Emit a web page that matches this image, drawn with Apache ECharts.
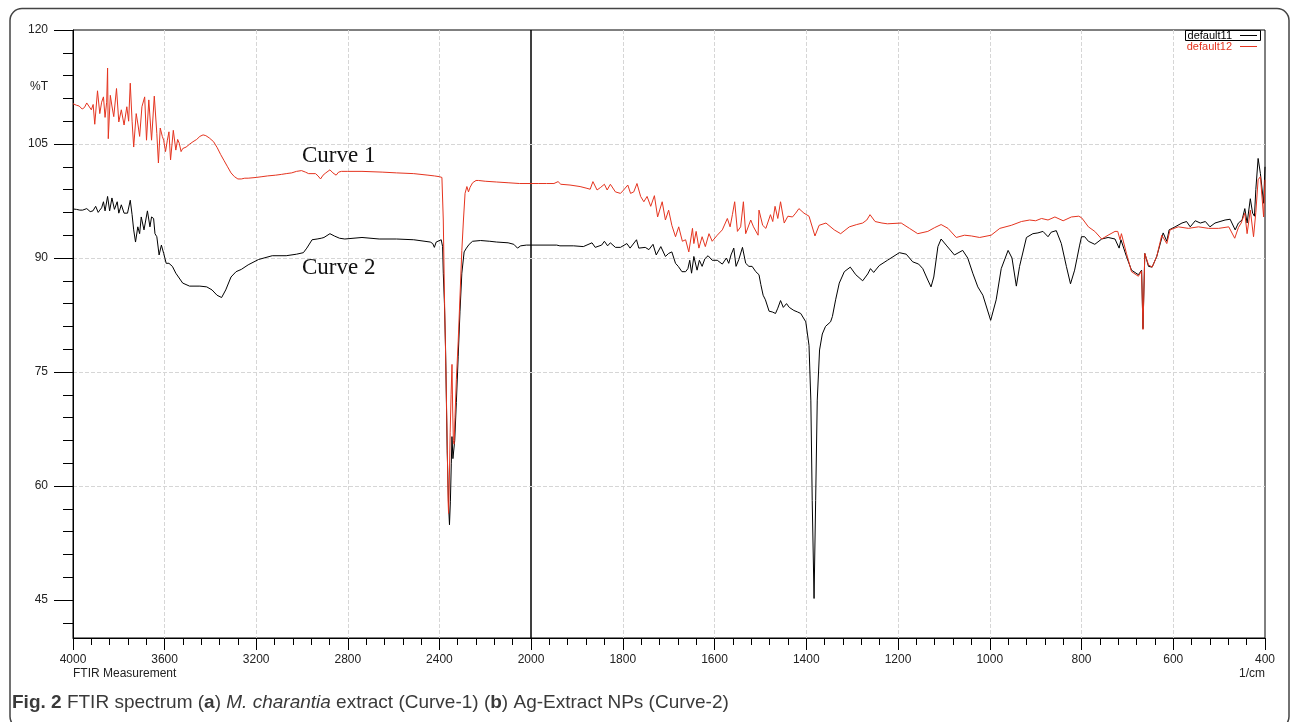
<!DOCTYPE html>
<html>
<head>
<meta charset="utf-8">
<script src="https://cdn.jsdelivr.net/npm/echarts@6/dist/echarts.min.js"></script>
<style>
html, body { margin: 0; padding: 0; background: #fff; }
#chart { width: 1293px; height: 722px; }
</style>
</head>
<body>
<div id="chart"></div>
<script>
// Curve 1 (red, default12): wavenumber (1/cm) and %T
var curve1Wn = [4000, 3985, 3973, 3960, 3950, 3940, 3932, 3920, 3912, 3905, 3893, 3883, 3875, 3867, 3860, 3853, 3849, 3846, 3837, 3830,
  3822, 3810, 3800, 3789, 3777, 3765, 3757, 3750, 3742, 3735, 3724, 3716, 3709, 3699, 3687, 3679, 3669, 3657, 3645, 3634,
  3627, 3619, 3610, 3604, 3596, 3588, 3581, 3574, 3562, 3551, 3543, 3536, 3528, 3521, 3506, 3490, 3476, 3460, 3446, 3432,
  3420, 3405, 3386, 3370, 3355, 3340, 3325, 3310, 3295, 3280, 3265, 3250, 3235, 3200, 3175, 3150, 3115, 3090, 3069, 3045,
  3024, 3002, 2985, 2971, 2941, 2930, 2919, 2908, 2896, 2878, 2865, 2851, 2840, 2828, 2800, 2738, 2650, 2587, 2512, 2450,
  2422, 2400, 2389, 2383, 2378, 2372, 2366, 2362, 2360, 2357, 2353, 2349, 2345, 2342, 2339, 2336, 2332, 2326, 2318, 2310,
  2302, 2295, 2288, 2280, 2273, 2266, 2255, 2240, 2229, 2200, 2150, 2100, 2050, 2000,
  1983, 1966, 1950, 1941, 1935, 1915, 1893, 1880, 1871, 1865, 1856, 1848, 1840, 1834, 1827, 1816, 1805, 1798, 1789, 1783,
  1776, 1769, 1761, 1754, 1747, 1739, 1731, 1724, 1714, 1707, 1700, 1693, 1685, 1678, 1670, 1663, 1656, 1648, 1645, 1640,
  1634, 1627, 1620, 1612, 1605, 1594, 1583, 1572, 1566, 1561, 1556, 1550, 1543, 1537, 1532, 1521, 1515, 1505, 1503, 1495,
  1488, 1478, 1473, 1468, 1462, 1456, 1448, 1440, 1437, 1430, 1423, 1416, 1405, 1394, 1390, 1381, 1372, 1357, 1339, 1325,
  1306, 1290, 1277, 1268, 1261, 1250, 1235, 1223, 1193, 1175, 1157, 1135, 1120, 1106, 1091, 1073, 1055, 1040, 1022, 997,
  978, 953, 931, 913, 900, 887, 873, 858, 840, 822, 806, 800, 796, 785, 771, 756, 742, 727, 721, 716,
  713, 702, 691, 676, 669, 666, 662, 654, 646, 636, 625, 614, 607, 589, 567, 545, 523, 501, 479, 466,
  458, 452, 444, 439, 432, 425, 420, 415, 410, 403, 400];
var curve1T = [110.3, 110.1, 110.0, 109.6, 109.8, 110.4, 110.6, 109.5, 110.2, 107.6, 112.0, 109.0, 110.5, 111.2, 108.5, 110.5, 115.0, 105.7, 111.4, 110.0,
  108.6, 112.3, 107.9, 109.5, 107.5, 109.9, 108.0, 113.0, 108.0, 104.6, 109.0, 107.5, 106.0, 109.9, 111.2, 105.5, 110.8, 105.5, 111.3, 106.4,
  102.5, 107.1, 106.0, 105.5, 104.0, 105.5, 106.6, 102.9, 106.8, 104.2, 105.6, 105.1, 104.0, 104.4, 104.6, 105.0, 105.3, 105.6, 106.0, 106.2,
  106.1, 105.8, 105.3, 104.5, 103.6, 102.8, 102.0, 101.2, 100.7, 100.4, 100.4, 100.5, 100.5, 100.6, 100.7, 100.8, 100.9, 101.0, 101.1, 101.2,
  101.4, 101.5, 101.3, 101.1, 101.1, 100.8, 100.4, 100.9, 101.2, 101.6, 101.2, 100.9, 101.3, 101.4, 101.4, 101.4, 101.3, 101.2, 101.1, 100.9,
  100.8, 100.7, 100.6, 95.0, 85.0, 76.0, 66.0, 58.0, 56.4, 60.0, 67.0, 72.0, 76.0, 70.0, 66.0, 65.5, 69.0, 74.0, 79.0, 85.0,
  91.0, 95.0, 98.5, 99.4, 98.7, 99.3, 99.9, 100.2, 100.2, 100.1, 100.0, 99.9, 99.8, 99.8,
  99.8, 99.8, 99.8, 100.05, 99.7, 99.6, 99.4, 99.2, 99.05, 100.05, 98.95, 99.3, 99.7, 98.95, 99.7, 98.7, 98.5, 98.95, 99.6, 98.5,
  98.7, 99.8, 98.1, 97.4, 98.1, 96.8, 98.2, 95.4, 97.4, 95.0, 96.3, 94.3, 92.8, 94.1, 92.2, 92.4, 90.8, 93.9, 91.9, 93.5,
  91.3, 92.8, 91.5, 93.2, 92.2, 93.0, 93.7, 95.2, 94.1, 95.7, 97.4, 93.5, 94.1, 97.4, 93.2, 95.0, 94.1, 93.0, 96.3, 94.3,
  93.9, 95.7, 94.8, 96.8, 95.2, 97.4, 94.6, 95.5, 95.7, 95.4, 95.9, 96.5, 95.9, 95.5, 95.7, 92.9, 94.3, 94.6, 93.7, 93.2,
  94.1, 94.4, 94.6, 95.0, 95.7, 94.8, 94.6, 94.5, 94.6, 93.9, 93.2, 93.5, 94.0, 94.4, 93.9, 92.7, 93.0, 92.9, 92.7, 93.0,
  93.9, 94.3, 94.8, 95.0, 94.9, 95.2, 95.0, 95.4, 94.9, 95.4, 95.5, 95.3, 95.0, 94.1, 93.5, 92.5, 93.0, 93.5, 93.5, 92.4,
  93.2, 90.6, 88.2, 87.6, 88.3, 80.6, 90.6, 89.1, 88.8, 90.2, 93.0, 91.9, 93.7, 94.1, 93.9, 94.1, 93.9, 93.9, 94.1, 92.6,
  94.0, 94.6, 95.9, 93.2, 96.3, 92.8, 96.0, 100.3, 100.7, 95.4, 100.3];

// Curve 2 (black, default11)
var curve2Wn = [4000, 3985, 3970, 3958, 3940, 3925, 3913, 3901, 3890, 3883, 3875, 3867, 3860, 3849, 3840, 3830, 3819, 3807, 3800, 3789,
  3777, 3762, 3750, 3742, 3735, 3727, 3717, 3709, 3702, 3690, 3675, 3664, 3657, 3648, 3642, 3634, 3624, 3614, 3604, 3593,
  3581, 3566, 3551, 3521, 3491, 3446, 3416, 3393, 3371, 3351, 3333, 3310, 3288, 3265, 3235, 3190, 3130, 3069, 3024, 2994,
  2979, 2956, 2934, 2916, 2904, 2878, 2859, 2836, 2813, 2738, 2663, 2587, 2512, 2440, 2429, 2422, 2414, 2392, 2386, 2383,
  2378, 2373, 2366, 2360, 2356, 2352, 2348, 2345, 2341, 2337, 2333, 2326, 2318, 2310, 2302, 2292, 2282, 2277, 2270, 2255,
  2220, 2180, 2150, 2100, 2075, 2059, 2045, 2020, 2000,
  1944, 1937, 1907, 1886, 1867, 1860, 1846, 1840, 1833, 1827, 1816, 1805, 1791, 1784, 1770, 1765, 1751, 1743, 1734, 1727,
  1717, 1707, 1700, 1693, 1685, 1679, 1671, 1663, 1658, 1654, 1650, 1645, 1638, 1633, 1627, 1621, 1614, 1605, 1594, 1583,
  1574, 1569, 1564, 1558, 1553, 1547, 1539, 1532, 1525, 1518, 1510, 1503, 1499, 1494, 1489, 1481, 1474, 1467, 1462, 1456,
  1450, 1443, 1437, 1427, 1419, 1412, 1408, 1401, 1394, 1390, 1387, 1383, 1379.5, 1376, 1371, 1365, 1358, 1347, 1343, 1336,
  1328, 1317, 1304, 1292, 1277, 1266, 1260, 1253, 1241, 1223, 1197, 1182, 1168, 1155, 1146, 1135, 1128, 1122, 1113, 1106,
  1095, 1077, 1059, 1048, 1037, 1026, 1015, 998, 986, 975, 960, 951.5, 942, 935, 920, 906, 895, 884, 873, 866,
  855, 844, 833, 824, 815, 804, 800, 793, 785, 771, 756, 742, 727, 718, 714, 702, 691, 676, 669, 666,
  662, 654, 646, 636, 622, 614, 609, 596, 581, 571, 563, 552, 541, 530, 520, 509, 498, 487, 476, 465,
  458, 450, 444, 439, 432, 427, 423, 420, 415, 410, 403, 400];
var curve2T = [96.45, 96.4, 96.3, 96.3, 96.5, 96.1, 96.2, 96.8, 96.0, 96.3, 96.6, 97.4, 96.2, 98.1, 96.2, 97.9, 96.4, 97.4, 95.9, 97.0,
  95.9, 95.9, 97.6, 95.7, 93.7, 92.1, 94.1, 93.2, 95.4, 93.7, 96.2, 94.1, 95.4, 95.2, 93.2, 92.8, 90.4, 91.7, 90.6, 89.3,
  89.3, 88.9, 88.0, 86.7, 86.3, 86.3, 86.2, 85.8, 85.1, 84.8, 85.8, 87.5, 88.2, 88.5, 89.1, 89.8, 90.3, 90.3, 90.5, 90.7,
  91.3, 92.4, 92.5, 92.6, 92.7, 93.2, 92.9, 92.6, 92.5, 92.7, 92.5, 92.5, 92.4, 92.1, 91.9, 91.4, 92.1, 92.4, 91.5, 88.0,
  84.0, 77.9, 64.7, 57.5, 54.9, 58.0, 63.0, 66.5, 63.6, 63.4, 66.0, 71.0, 77.0, 83.0, 88.0, 90.8, 91.3, 91.05, 91.8, 92.2,
  92.3, 92.2, 92.1, 92.0, 91.8, 91.3, 91.6, 91.7, 91.7,
  91.7, 91.6, 91.6, 91.5, 92.0, 91.4, 91.7, 92.2, 91.6, 92.0, 91.4, 91.4, 91.9, 91.3, 92.4, 91.3, 91.4, 91.1, 91.8, 90.4,
  91.5, 90.2, 90.6, 90.8, 89.3, 88.9, 88.2, 88.2, 88.6, 89.7, 88.0, 90.2, 88.4, 89.7, 88.9, 89.9, 90.3, 89.7, 89.7, 89.2,
  90.0, 89.3, 90.4, 91.3, 88.9, 89.8, 91.4, 89.3, 88.9, 88.9, 88.2, 87.8, 86.5, 85.1, 84.5, 83.0, 82.9, 82.7, 83.4, 84.4,
  83.5, 84.0, 83.5, 83.1, 82.9, 82.7, 82.5, 81.6, 78.5, 71.3, 58.1, 45.2, 58.1, 71.3, 77.9, 80.0, 81.0, 81.6, 82.3, 84.5,
  86.7, 88.2, 88.8, 87.8, 87.0, 87.9, 88.6, 88.1, 89.0, 89.7, 90.7, 90.5, 89.5, 89.2, 88.6, 87.1, 86.2, 87.5, 91.5, 92.5,
  91.7, 90.4, 91.0, 90.0, 88.0, 86.2, 85.1, 81.8, 84.5, 88.6, 91.0, 90.0, 86.3, 88.9, 92.7, 93.2, 93.3, 93.5, 92.8, 93.4,
  93.6, 91.9, 88.9, 86.6, 88.4, 91.7, 92.8, 92.8, 92.2, 91.8, 92.5, 92.7, 92.5, 91.3, 92.4, 90.2, 88.4, 87.8, 88.4, 80.7,
  90.6, 88.9, 88.8, 90.2, 93.3, 92.2, 93.7, 94.1, 94.6, 94.8, 94.1, 94.9, 94.6, 94.8, 94.1, 94.6, 94.8, 95.0, 95.1, 93.7,
  94.6, 95.0, 96.5, 94.6, 97.8, 95.9, 95.5, 99.0, 103.1, 101.1, 97.2, 102.0];

var yLabelValues = [45, 60, 75, 90, 105, 120];
var seriesNames = ['default11', 'default12'];

var minorY = [];
for (var v = 42; v <= 120; v += 3) minorY.push(v);

function pairs(wn, t, lo, hi) {
  var out = [];
  for (var i = 0; i < wn.length; i++) {
    if (wn[i] >= lo && wn[i] <= hi) out.push([wn[i], t[i]]);
  }
  return out;
}

var black = '#000000';
var red = '#e5341f';
var font = 'Liberation Sans';
var gridLine = { show: true, showMinLine: false, showMaxLine: false, lineStyle: { color: '#d6d6d6', type: 'dashed', width: 1 } };

function xAxis(idx, min, max, interval) {
  return {
    gridIndex: idx, type: 'value', min: min, max: max, interval: interval, inverse: true,
    axisLine: { show: true, onZero: false, lineStyle: { color: black, width: 1 } },
    axisTick: { show: true, length: 12, lineStyle: { color: black } },
    minorTick: { show: true, splitNumber: 5, length: 7, lineStyle: { color: black } },
    axisLabel: {
      margin: 16, color: '#222', fontSize: 12, fontFamily: font,
      formatter: function (val) { return (idx === 1 && val === 2000) ? '' : String(val); }
    },
    splitLine: gridLine
  };
}

var option = {
  animation: false,
  backgroundColor: '#fff',
  grid: [
    { left: 73, top: 30, width: 458, bottom: 84, show: true, borderColor: black, borderWidth: 1, outerBoundsMode: 'none' },
    { left: 531, top: 30, right: 28, bottom: 84, show: true, borderColor: black, borderWidth: 1, outerBoundsMode: 'none' }
  ],
  xAxis: [xAxis(0, 2000, 4000, 400), xAxis(1, 400, 2000, 200)],
  yAxis: [
    {
      gridIndex: 0, type: 'value', min: 40, max: 120, position: 'left',
      axisLine: { show: true, lineStyle: { color: black } },
      axisTick: { show: true, length: 19, customValues: yLabelValues, lineStyle: { color: black } },
      axisLabel: { customValues: yLabelValues, margin: 25, color: '#222', fontSize: 12, fontFamily: font },
      splitLine: gridLine
    },
    {
      gridIndex: 0, type: 'value', min: 40, max: 120, position: 'left', offset: 0,
      axisLine: { show: false },
      axisTick: { show: true, length: 10, customValues: minorY, lineStyle: { color: black } },
      axisLabel: { show: false },
      splitLine: { show: false }
    },
    {
      gridIndex: 1, type: 'value', min: 40, max: 120, position: 'left',
      axisLine: { show: false },
      axisTick: { show: false, customValues: yLabelValues },
      axisLabel: { show: false },
      splitLine: gridLine
    }
  ],
  legend: {
    orient: 'vertical', right: 36, top: 30, align: 'right', padding: 0, itemGap: 0,
    itemWidth: 17, itemHeight: 1, icon: 'rect', selectedMode: false,
    textStyle: { fontSize: 11, lineHeight: 11, fontFamily: font, padding: [0, 3, 0, 0] },
    data: [
      { name: seriesNames[0], textStyle: { color: black } },
      { name: seriesNames[1], textStyle: { color: red } }
    ]
  },
  series: [
    { name: seriesNames[0], type: 'line', xAxisIndex: 0, yAxisIndex: 0, showSymbol: false, data: pairs(curve2Wn, curve2T, 2000, 4000), lineStyle: { color: black, width: 1 }, itemStyle: { color: black } },
    { name: seriesNames[0], type: 'line', xAxisIndex: 1, yAxisIndex: 2, showSymbol: false, data: pairs(curve2Wn, curve2T, 400, 2000), lineStyle: { color: black, width: 1 }, itemStyle: { color: black } },
    { name: seriesNames[1], type: 'line', xAxisIndex: 0, yAxisIndex: 0, showSymbol: false, data: pairs(curve1Wn, curve1T, 2000, 4000), lineStyle: { color: red, width: 1 }, itemStyle: { color: red } },
    { name: seriesNames[1], type: 'line', xAxisIndex: 1, yAxisIndex: 2, showSymbol: false, data: pairs(curve1Wn, curve1T, 400, 2000), lineStyle: { color: red, width: 1 }, itemStyle: { color: red } }
  ],
  graphic: [
    { type: 'rect', silent: true, shape: { x: 10, y: 8.5, width: 1279, height: 720, r: 12 }, style: { fill: 'none', stroke: '#444', lineWidth: 1.5 } },
    { type: 'rect', silent: true, shape: { x: 1185.5, y: 30.5, width: 75, height: 10 }, style: { fill: 'none', stroke: black, lineWidth: 1 }, z: 10 },
    { type: 'text', x: 30, y: 87, style: { text: '%T', font: '12px "Liberation Sans"', fill: '#222', verticalAlign: 'middle' } },
    { type: 'text', x: 302, y: 156, style: { text: 'Curve 1', font: '23px "Liberation Serif"', fill: '#111', verticalAlign: 'middle' } },
    { type: 'text', x: 302, y: 268, style: { text: 'Curve 2', font: '23px "Liberation Serif"', fill: '#111', verticalAlign: 'middle' } },
    { type: 'text', x: 73, y: 674, style: { text: 'FTIR Measurement', font: '12px "Liberation Sans"', fill: '#222', verticalAlign: 'middle' } },
    { type: 'text', x: 1265, y: 674, style: { text: '1/cm', font: '12px "Liberation Sans"', fill: '#222', align: 'right', verticalAlign: 'middle' } },
    {
      type: 'text', x: 12, y: 703,
      style: {
        text: '{b|Fig. 2} FTIR spectrum ({b|a}) {i|M. charantia} extract (Curve-1) ({b|b}) Ag-Extract NPs (Curve-2)',
        font: '19px "Liberation Sans"', fill: '#3a3a3a', verticalAlign: 'middle',
        rich: {
          b: { fontWeight: 'bold', fontSize: 19, fontFamily: font, fill: '#3a3a3a' },
          i: { fontStyle: 'italic', fontSize: 19, fontFamily: font, fill: '#3a3a3a' }
        }
      }
    }
  ]
};

var myChart = echarts.init(document.getElementById('chart'));
myChart.setOption(option);
window.addEventListener('resize', function () {
  myChart.resize();
});
</script>
</body>
</html>
